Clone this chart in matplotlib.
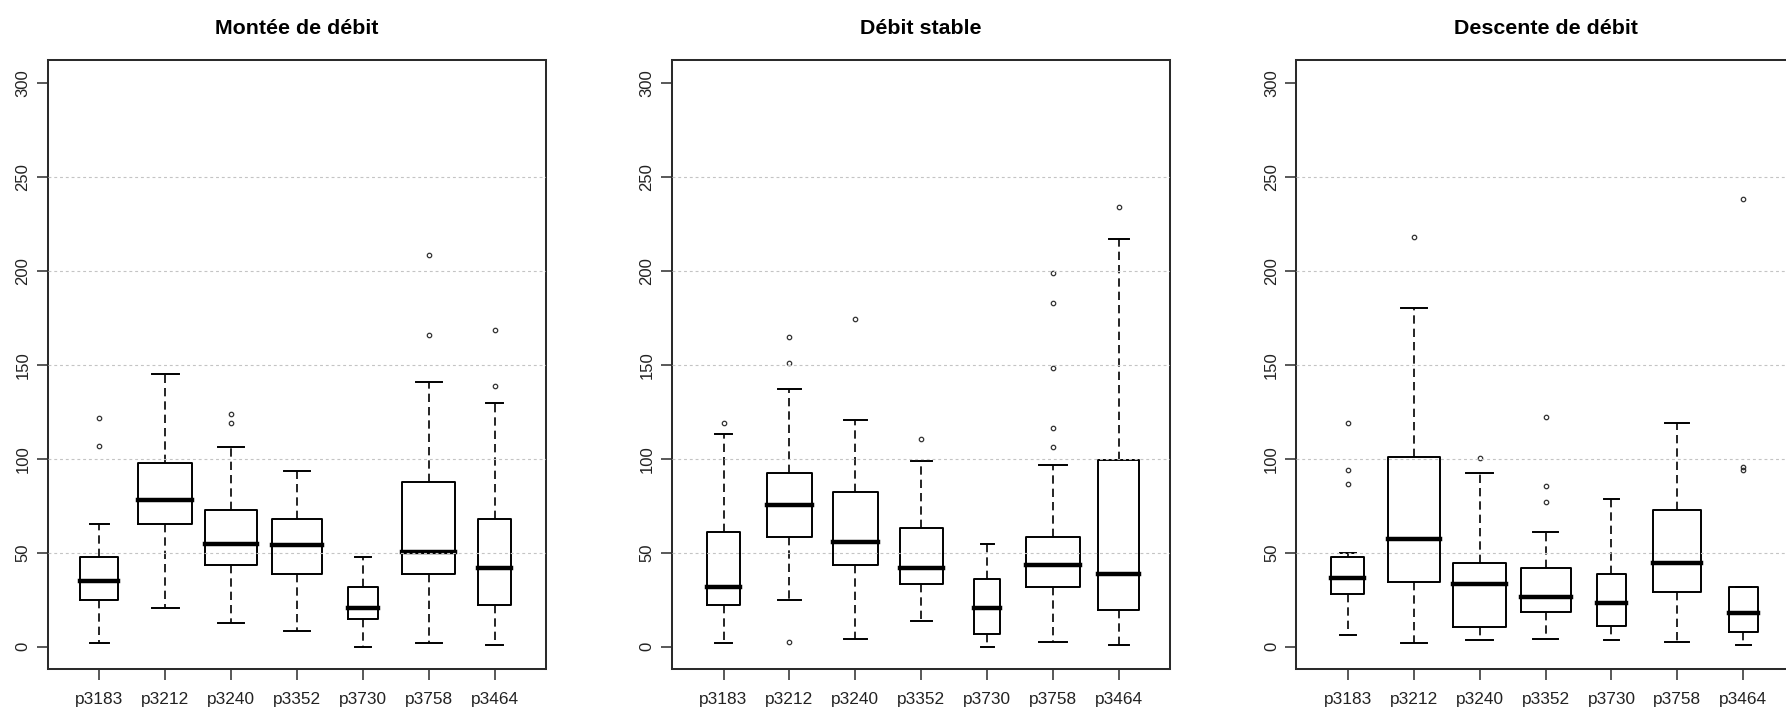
import numpy as np
import matplotlib
matplotlib.use("Agg")
import matplotlib.pyplot as plt

plt.rcParams['font.family'] = ['Liberation Sans', 'DejaVu Sans']

# Station labels (same order in the three panels)
stations = ["p3183", "p3212", "p3240", "p3352", "p3730", "p3758", "p3464"]

# --- Montée de débit ---
montee_whislo = [1.8, 20.6, 12.8, 8.5, 0.0, 1.8, 0.9]
montee_q1 = [24.7, 65.3, 43.6, 38.6, 14.6, 38.6, 22.2]
montee_med = [35.2, 78.0, 54.8, 54.1, 20.8, 50.2, 41.8]
montee_q3 = [48.0, 97.7, 72.8, 67.8, 31.9, 87.4, 67.8]
montee_whishi = [65.3, 145.0, 106.4, 93.6, 48.0, 140.7, 129.5]
montee_fliers = [[107.0, 121.5], [], [118.9, 123.7], [], [], [165.7, 208.4], [138.8, 168.4]]
montee_widths = [0.57, 0.815, 0.80, 0.77, 0.466, 0.80, 0.506]

# --- Débit stable ---
stable_whislo = [1.8, 24.9, 4.3, 13.7, 0.0, 2.5, 0.9]
stable_q1 = [22.0, 58.2, 43.4, 33.3, 6.8, 31.7, 19.8]
stable_med = [31.7, 75.4, 55.7, 41.8, 20.6, 43.6, 38.6]
stable_q3 = [60.9, 92.5, 82.4, 63.3, 35.9, 58.2, 99.5]
stable_whishi = [113.2, 137.2, 120.8, 98.6, 54.8, 96.8, 217.1]
stable_fliers = [[119.2], [2.5, 150.9, 165.0], [174.4], [110.7], [],
                 [106.2, 116.5, 148.2, 182.9, 199.0], [234.2]]
stable_widths = [0.494, 0.692, 0.692, 0.651, 0.39, 0.826, 0.622]

# --- Descente de débit ---
descente_whislo = [6.0, 1.8, 3.4, 4.3, 3.4, 2.5, 0.9]
descente_q1 = [28.1, 34.2, 10.3, 18.7, 11.0, 29.0, 7.7]
descente_med = [36.8, 57.3, 33.3, 26.5, 23.1, 44.7, 18.0]
descente_q3 = [48.0, 101.1, 44.7, 42.0, 38.6, 73.0, 31.7]
descente_whishi = [49.8, 180.2, 92.5, 60.9, 78.8, 119.0, 31.7]
descente_fliers = [[86.5, 94.1, 119.2], [217.9], [100.4], [76.9, 85.6, 122.4], [], [],
                   [94.1, 95.7, 238.3]]
descente_widths = [0.50, 0.788, 0.80, 0.76, 0.443, 0.73, 0.443]

titles = ["Montée de débit", "Débit stable", "Descente de débit"]
panels = [
    (montee_whislo, montee_q1, montee_med, montee_q3, montee_whishi, montee_fliers, montee_widths),
    (stable_whislo, stable_q1, stable_med, stable_q3, stable_whishi, stable_fliers, stable_widths),
    (descente_whislo, descente_q1, descente_med, descente_q3, descente_whishi, descente_fliers, descente_widths),
]

grid_levels = [50, 100, 150, 200, 250]

W, H = 1786, 715
fig = plt.figure(figsize=(W / 100, H / 100), dpi=100)

frame_col = "#2b2b2b"
for i, (lo, q1, med, q3, hi, fl, wd) in enumerate(panels):
    left_px = 47.8 + i * 624.3
    ax = fig.add_axes([left_px / W, (H - 669.3) / H, 498.3 / W, 609 / H])

    stats = []
    for k in range(len(stations)):
        stats.append(dict(whislo=lo[k], q1=q1[k], med=med[k], q3=q3[k],
                          whishi=hi[k], fliers=fl[k], label=stations[k]))
    ax.bxp(stats, positions=range(1, len(stations) + 1), widths=wd,
           capwidths=[0.5 * w for w in wd],
           boxprops=dict(color="black", linewidth=1.4),
           whiskerprops=dict(color="black", linewidth=1.2, linestyle=(0, (5, 3))),
           capprops=dict(color="black", linewidth=1.4),
           medianprops=dict(color="black", linewidth=3.2, solid_capstyle="projecting"),
           flierprops=dict(marker="o", markersize=3.2, markerfacecolor="none",
                           markeredgecolor="#333333", markeredgewidth=0.9),
           zorder=2)

    for g in grid_levels:
        ax.axhline(g, color="#c4c4c4", linewidth=0.8, linestyle=(0, (2.6, 2.6)), zorder=3)

    ax.set_xlim(0.22, 7.78)
    ax.set_ylim(-12, 312)
    ax.set_yticks(np.arange(0, 301, 50))
    ax.set_xticks(range(1, len(stations) + 1))
    ax.set_xticklabels(stations)

    for s in ax.spines.values():
        s.set_linewidth(1.45)
        s.set_color(frame_col)
    ax.tick_params(axis="y", labelrotation=90, length=8, width=1.1, color=frame_col,
                   labelsize=12, labelcolor="#222222", pad=4.6)
    ax.tick_params(axis="x", length=7.7, width=1.1, color=frame_col,
                   labelsize=12.4, labelcolor="#222222", pad=9)
    for lab in ax.get_yticklabels():
        lab.set_verticalalignment("center")

    ax.set_title(titles[i], fontsize=15.4, fontweight="bold", pad=19)

fig.savefig("out.png", dpi=100)
